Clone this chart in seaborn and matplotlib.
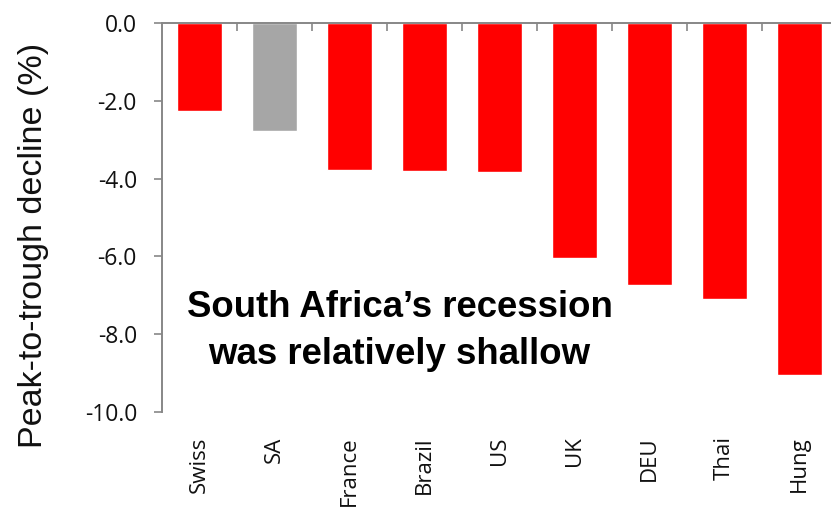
import matplotlib
matplotlib.use("Agg")
import matplotlib.pyplot as plt
from matplotlib.ticker import FixedLocator
import seaborn as sns

# Peak-to-trough GDP decline by country (%)
countries = ["Swiss", "SA", "France", "Brazil", "US", "UK", "DEU", "Thai", "Hung"]
declines = [-2.26, -2.78, -3.77, -3.80, -3.83, -6.04, -6.74, -7.09, -9.05]
highlight = "SA"

y_ticks = [0, -2, -4, -6, -8, -10]

RED = "#FF0000"
GREY = "#A6A6A6"
AXIS = "#878787"

sns.set_theme(style="white")
plt.rcParams["font.family"] = ["Liberation Sans", "DejaVu Sans"]

fig = plt.figure(figsize=(8.31, 5.08), dpi=100)
W, H = 831, 508
ax = fig.add_axes([162 / W, (H - 412) / H, 675 / W, (412 - 23) / H])

palette = {c: (GREY if c == highlight else RED) for c in countries}
sns.barplot(x=countries, y=declines, hue=countries, palette=palette,
            legend=False, width=0.59, saturation=1, ax=ax)

ax.set_xlim(-0.5, len(countries) - 0.5)
ax.set_ylim(-10, 0)
ax.set_yticks(y_ticks)
ax.set_yticklabels([f"{v:.1f}" for v in y_ticks], fontfamily="Open Sans",
                   fontsize=16.5, color="#111111")

# category labels below, separator ticks hanging from the zero line
ax.set_xticks(range(len(countries)))
ax.set_xticklabels(countries, rotation=90, fontfamily="Open Sans",
                   fontsize=16, color="#111111", va="top")
ax.xaxis.set_minor_locator(FixedLocator([i + 0.5 for i in range(len(countries) - 1)]))
ax.tick_params(axis="x", which="major", length=0, pad=17.5)
ax.tick_params(axis="x", which="minor", bottom=False, top=True,
               direction="in", length=6, width=1.2, color=AXIS)
ax.tick_params(axis="y", which="major", left=True, direction="out",
               length=6, width=1.2, color=AXIS, pad=12)

for side in ("bottom", "right"):
    ax.spines[side].set_visible(False)
for side in ("top", "left"):
    ax.spines[side].set_color(AXIS)
    ax.spines[side].set_linewidth(1.4)

ax.set_xlabel("")
ax.set_ylabel("")
fig.text(34 / W, 1 - 245 / H, "Peak-to-trough decline (%)", rotation=90,
         ha="center", va="center", fontsize=24.5, color="#111111")

fig.text(400 / W, 1 - 317 / H, "South Africa\u2019s recession",
         ha="center", va="baseline", fontsize=26.4, fontweight="bold", color="black")
fig.text(399 / W, 1 - 364 / H, "was relatively shallow",
         ha="center", va="baseline", fontsize=26.4, fontweight="bold", color="black")

fig.savefig("out.png", dpi=100)
